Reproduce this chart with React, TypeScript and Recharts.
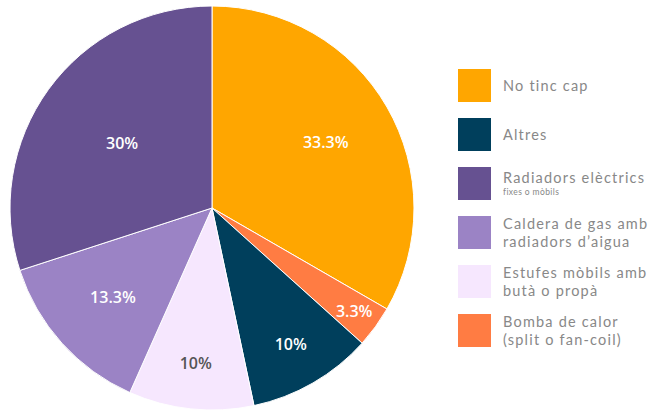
import React from "react";
import { PieChart, Pie, Cell, Legend } from "recharts";

// Counts of responses (30 total) in clockwise order from top
const categories = [
  "No tinc cap",
  "Bomba de calor",
  "Altres",
  "Estufes mòbils",
  "Caldera de gas",
  "Radiadors elèctrics",
];
const counts = [10, 1, 3, 3, 4, 9];
const legendOrder = [
  "No tinc cap",
  "Altres",
  "Radiadors elèctrics",
  "Caldera de gas",
  "Estufes mòbils",
  "Bomba de calor",
];
const legendLines: Record<string, string[]> = {
  "No tinc cap": ["No tinc cap"],
  "Altres": ["Altres"],
  "Radiadors elèctrics": ["Radiadors elèctrics"],
  "Caldera de gas": ["Caldera de gas amb", "radiadors d’aigua"],
  "Estufes mòbils": ["Estufes mòbils amb", "butà o propà"],
  "Bomba de calor": ["Bomba de calor", "(split o fan-coil)"],
};
const legendSub: Record<string, string> = {
  "Radiadors elèctrics": "fixes o mòbils",
};

// styles
const COLORS: Record<string, string> = {
  "No tinc cap": "#FFA600",
  "Bomba de calor": "#FF7C43",
  "Altres": "#003F5C",
  "Estufes mòbils": "#F6E7FE",
  "Caldera de gas": "#9B83C5",
  "Radiadors elèctrics": "#665191",
};
const LABEL_COLORS: Record<string, string> = { "Estufes mòbils": "#555555" };
const LABEL_RADIUS = [0.65, 0.87, 0.78, 0.77, 0.66, 0.55];

const total = counts.reduce((a, b) => a + b, 0);
const data = categories.map((name, i) => ({
  name,
  value: counts[i],
  pct: Math.round((counts[i] / total) * 1000) / 10,
}));

const RAD = Math.PI / 180;

const renderLabel = (props: any) => {
  const { cx, cy, midAngle, outerRadius, index } = props;
  const r = outerRadius * LABEL_RADIUS[index];
  const x = cx + r * Math.cos(-midAngle * RAD);
  const y = cy + r * Math.sin(-midAngle * RAD);
  const name = data[index].name;
  return (
    <text
      x={x}
      y={y}
      textAnchor="middle"
      dominantBaseline="central"
      fill={LABEL_COLORS[name] || "#ffffff"}
      style={{ fontFamily: "'Open Sans', sans-serif", fontSize: 16, fontWeight: 600 }}
    >
      {`${data[index].pct}%`}
    </text>
  );
};

const LegendContent = () => (
  <div style={{ fontFamily: "Lato, sans-serif", color: "#888888" }}>
    {legendOrder.map((name) => (
      <div
        key={name}
        style={{ display: "flex", alignItems: "center", height: 33, marginBottom: 16 }}
      >
        <div style={{ width: 33, height: 33, background: COLORS[name], flex: "none" }} />
        <div style={{ marginLeft: 12, fontSize: 14.5, lineHeight: "17.5px", letterSpacing: 1.2, whiteSpace: "nowrap" }}>
          {legendLines[name].map((l) => (
            <div key={l}>{l}</div>
          ))}
          {legendSub[name] && (
            <div style={{ fontSize: 8.5, lineHeight: "11px", letterSpacing: 0.4, marginTop: 1 }}>{legendSub[name]}</div>
          )}
        </div>
      </div>
    ))}
  </div>
);

export default function App() {
  return (
    <div style={{ position: "absolute", left: 0, top: 0, width: 662, height: 412, background: "#fff" }}>
      <PieChart width={662} height={412} margin={{ top: 0, right: 0, bottom: 0, left: 0 }}>
        <Pie
          data={data}
          dataKey="value"
          nameKey="name"
          cx={212}
          cy={208}
          outerRadius={202}
          startAngle={90}
          endAngle={-270}
          stroke="#ffffff"
          strokeWidth={1}
          label={renderLabel}
          labelLine={false}
          isAnimationActive={false}
        >
          {data.map((d) => (
            <Cell key={d.name} fill={COLORS[d.name]} />
          ))}
        </Pie>
        <Legend
          content={<LegendContent />}
          wrapperStyle={{ position: "absolute", left: 458, top: 69, width: 204, height: "auto" }}
        />
      </PieChart>
    </div>
  );
}
